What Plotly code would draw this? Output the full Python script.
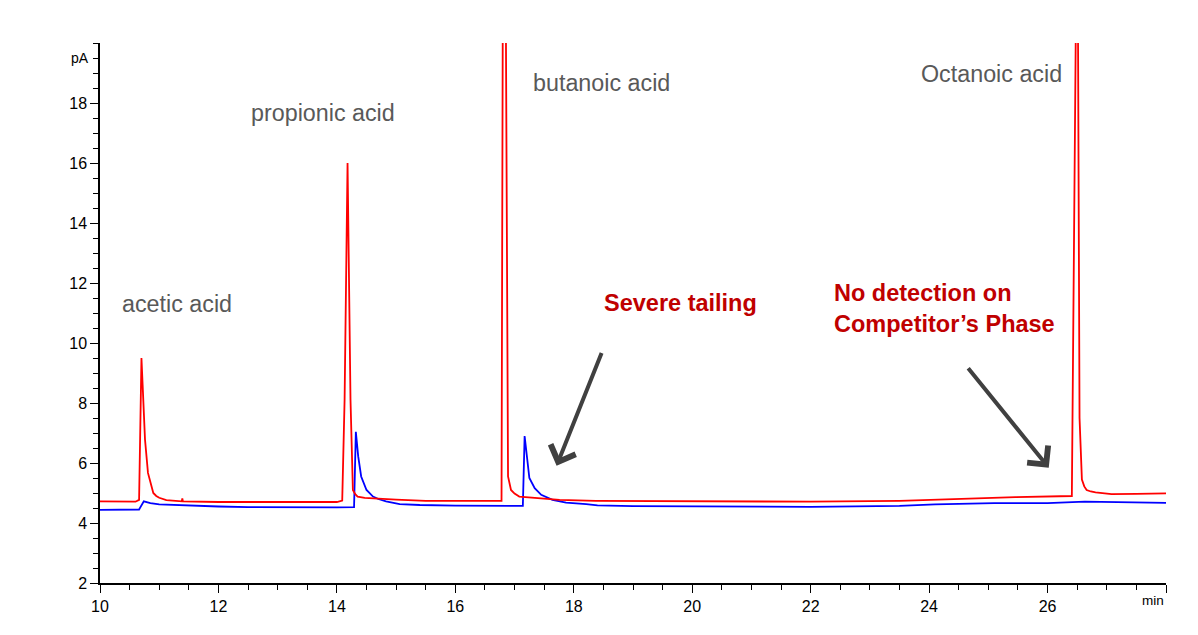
import plotly.graph_objects as go

# Retention time (min) and detector signal (pA) for the two chromatograms
red_time = [10.00, 10.30, 10.60, 10.66, 10.69, 10.70, 10.72, 10.76, 10.81, 10.86, 10.90,
            10.95, 11.00, 11.12, 11.30, 11.38, 11.39, 11.40, 12.00, 13.00, 14.00, 14.09,
            14.13, 14.18, 14.23, 14.27, 14.31, 14.35, 14.47, 15.00, 15.50, 16.00, 16.78,
            16.80, 16.83, 16.855, 16.875, 16.89, 16.94, 17.00, 17.08, 17.30, 17.76, 18.37,
            20.00, 22.00, 23.50, 24.78, 25.46, 26.41, 26.475, 26.495, 26.515, 26.54,
            26.58, 26.62, 26.66, 26.73, 26.81, 27.08, 27.50, 28.00]
red_signal = [4.72, 4.71, 4.71, 4.77, 9.40, 9.50, 8.60, 6.78, 5.67, 5.25, 5.00,
              4.90, 4.84, 4.76, 4.73, 4.72, 4.82, 4.72, 4.70, 4.69, 4.70, 4.75,
              8.10, 16.00, 8.10, 5.10, 4.96, 4.88, 4.84, 4.78, 4.74, 4.74, 4.74,
              20.00, 28.00, 20.00, 8.00, 5.55, 5.10, 4.98, 4.88, 4.84, 4.77, 4.74,
              4.72, 4.71, 4.74, 4.83, 4.86, 4.90, 20.00, 30.00, 20.00, 7.50,
              5.45, 5.22, 5.10, 5.05, 5.02, 4.96, 4.97, 4.99]

blue_time = [10.00, 10.50, 10.66, 10.74, 10.85, 11.00, 11.50, 12.00, 12.50, 13.00, 14.00,
             14.29, 14.32, 14.36, 14.41, 14.50, 14.61, 14.70, 14.83, 15.06, 15.40, 16.00,
             17.00, 17.14, 17.17, 17.21, 17.25, 17.34, 17.45, 17.64, 17.87, 18.21, 18.40,
             19.00, 20.00, 21.00, 22.00, 23.50, 24.10, 25.10, 26.00, 26.63, 27.50, 28.00]
blue_signal = [4.44, 4.44, 4.45, 4.72, 4.66, 4.62, 4.58, 4.55, 4.53, 4.52, 4.52,
               4.53, 7.04, 6.22, 5.55, 5.10, 4.88, 4.80, 4.72, 4.63, 4.60, 4.58,
               4.57, 4.57, 6.90, 6.10, 5.50, 5.16, 4.94, 4.77, 4.68, 4.63, 4.59,
               4.56, 4.55, 4.53, 4.54, 4.57, 4.62, 4.66, 4.66, 4.71, 4.70, 4.67]

x_ticks = [10, 12, 14, 16, 18, 20, 22, 24, 26, 28]
x_labels = ["10", "12", "14", "16", "18", "20", "22", "24", "26", ""]
y_ticks = [2, 4, 6, 8, 10, 12, 14, 16, 18]
y_labels = ["2", "4", "6", "8", "10", "12", "14", "16", "18"]

# Peak labels: (text, time, signal)
peak_labels = [("acetic acid", 11.30, 11.29),
               ("propionic acid", 13.76, 17.66),
               ("butanoic acid", 18.47, 18.67),
               ("Octanoic acid", 25.06, 18.97)]

FONT = "Liberation Sans, Arial, sans-serif"
GREY_TEXT = "#595959"
DARK_RED = "#C00000"
ARROW = "#404040"

fig = go.Figure()
fig.add_trace(go.Scatter(x=blue_time, y=blue_signal, mode="lines",
                         line=dict(color="#0000FF", width=1.8), showlegend=False))
fig.add_trace(go.Scatter(x=red_time, y=red_signal, mode="lines",
                         line=dict(color="#FF0000", width=1.8), showlegend=False))

annotations = []
for text, t, s in peak_labels:
    annotations.append(dict(x=t, y=s, xref="x", yref="y", text=text, showarrow=False,
                            font=dict(family=FONT, size=23.3, color=GREY_TEXT)))

annotations.append(dict(x=19.80, y=11.32, xref="x", yref="y", text="<b>Severe tailing</b>",
                        showarrow=False, font=dict(family=FONT, size=23.5, color=DARK_RED)))
annotations.append(dict(x=22.36, y=11.15, xref="x", yref="y", xanchor="left", align="left",
                        text="<b>No detection on<br>Competitor’s Phase</b>",
                        showarrow=False, font=dict(family=FONT, size=23.5, color=DARK_RED)))

# Pointer arrows
annotations.append(dict(x=17.71, y=5.91, ax=18.48, ay=9.72, xref="x", yref="y",
                        axref="x", ayref="y", text="", showarrow=True, arrowhead=4,
                        arrowsize=1.3, arrowwidth=4, arrowcolor=ARROW))
annotations.append(dict(x=26.02, y=5.84, ax=24.64, ay=9.21, xref="x", yref="y",
                        axref="x", ayref="y", text="", showarrow=True, arrowhead=4,
                        arrowsize=1.3, arrowwidth=4, arrowcolor=ARROW))

# Axis unit labels
annotations.append(dict(x=0, y=19.5, xref="paper", yref="y", xanchor="right", xshift=-9,
                        text="pA", showarrow=False,
                        font=dict(family=FONT, size=14, color="#000000")))
annotations.append(dict(x=28, y=0, xref="x", yref="paper", xanchor="right", yanchor="top",
                        yshift=-8, text="min", showarrow=False,
                        font=dict(family=FONT, size=13.5, color="#000000")))

fig.update_layout(
    width=1198, height=635,
    margin=dict(l=100, r=32, t=43, b=52),
    paper_bgcolor="white", plot_bgcolor="white",
    annotations=annotations,
    font=dict(family=FONT, size=16, color="#000000"),
)
fig.update_xaxes(range=[10, 28], tickmode="array", tickvals=x_ticks, ticktext=x_labels,
                 showgrid=False, zeroline=False, showline=True, linecolor="#000000",
                 linewidth=1.5, ticks="outside", ticklen=8, tickwidth=1, tickcolor="#000000",
                 minor=dict(dtick=0.5, tick0=10, ticks="outside", ticklen=5,
                            tickcolor="#000000", showgrid=False),
                 tickfont=dict(family=FONT, size=16))
fig.update_yaxes(range=[2, 20], tickmode="array", tickvals=y_ticks, ticktext=y_labels,
                 showgrid=False, zeroline=False, showline=True, linecolor="#000000",
                 linewidth=1.5, ticks="outside", ticklen=8, tickwidth=1, tickcolor="#000000",
                 minor=dict(dtick=0.5, tick0=2, ticks="outside", ticklen=5,
                            tickcolor="#000000", showgrid=False),
                 tickfont=dict(family=FONT, size=16))

fig.write_html("out.html")
